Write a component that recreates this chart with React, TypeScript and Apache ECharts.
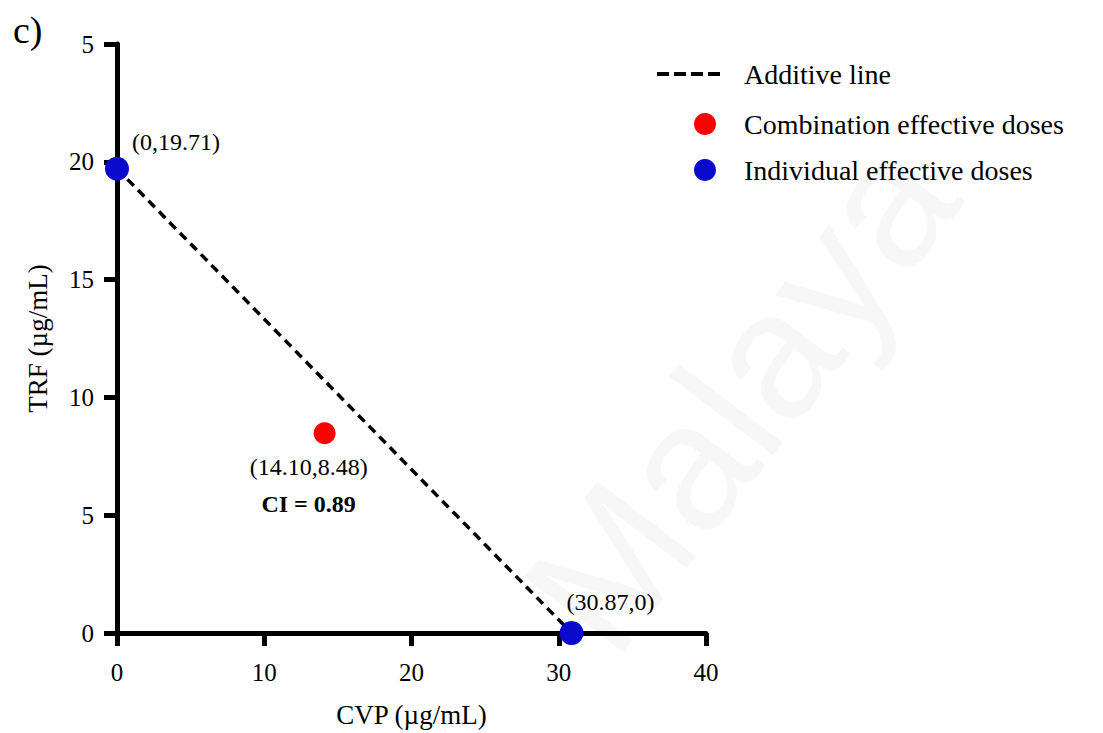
import React, { useEffect, useRef } from "react";
import * as echarts from "echarts";

// ---- data ----
const additiveLine: [number, number][] = [
  [0, 19.71],
  [30.87, 0],
];
const individualDoses: [number, number][] = [
  [0, 19.71],
  [30.87, 0],
];
const individualLabels = ["(0,19.71)", "(30.87,0)"];
const combinationDoses: [number, number][] = [[14.1, 8.48]];
const combinationLabels = ["(14.10,8.48)"];
const ciValue = "0.89";
const xTicks = [0, 10, 20, 30, 40];
const yTicks = [0, 5, 10, 15, 20, 25];
const yTickLabels = ["0", "5", "10", "15", "20", "5"];

const FONT = "'Liberation Serif', 'Times New Roman', serif";
const DASH_ICON =
  "path://M0,0H12V4H0Z M17,0H29V4H17Z M34,0H46V4H34Z M51,0H63V4H51Z";

export default function App() {
  const ref = useRef<HTMLDivElement>(null);
  useEffect(() => {
    if (!ref.current) return;
    const chart = echarts.init(ref.current, undefined, { renderer: "svg" });
    const option: any = {
      animation: false,
      backgroundColor: "#ffffff",
      textStyle: { fontFamily: FONT },
      grid: { left: 117, right: 397, top: 44, bottom: 99, containLabel: false },
      graphic: [
        {
          type: "text",
          x: 740,
          y: 395,
          rotation: 0.92,
          z: -10,
          silent: true,
          style: {
            text: "Malaya",
            fontFamily: "'Liberation Sans', Arial, sans-serif",
            fontSize: 180,
            fill: "rgba(0,0,0,0.03)",
            align: "center",
            verticalAlign: "middle",
          },
        },
        {
          type: "text",
          left: 13,
          top: 11,
          style: { text: "c)", fontFamily: FONT, fontSize: 38, fill: "#000" },
        },
      ],
      legend: [
        {
          orient: "vertical",
          left: 652,
          top: 55,
          itemWidth: 63,
          itemHeight: 4,
          data: [{ name: "Additive line", icon: DASH_ICON, itemStyle: { color: "#000" } }],
          textStyle: { fontFamily: FONT, fontSize: 28, color: "#000", padding: [0, 0, 0, 19] },
        },
        {
          orient: "vertical",
          left: 689,
          top: 105,
          itemWidth: 22,
          itemHeight: 22,
          itemGap: 18,
          data: ["Combination effective doses", "Individual effective doses"],
          icon: "circle",
          textStyle: { fontFamily: FONT, fontSize: 28, color: "#000", padding: [0, 0, 0, 23] },
        },
      ],
      xAxis: {
        type: "value",
        min: xTicks[0],
        max: xTicks[xTicks.length - 1],
        interval: 10,
        name: "CVP (µg/mL)",
        nameLocation: "middle",
        nameGap: 68,
        nameTextStyle: { fontFamily: FONT, fontSize: 27, color: "#000" },
        axisLine: { show: true, onZero: false, lineStyle: { color: "#000", width: 5 } },
        axisTick: { show: true, length: 13, lineStyle: { color: "#000", width: 5 } },
        axisLabel: { fontFamily: FONT, fontSize: 25, color: "#000", margin: 27 },
        splitLine: { show: false },
      },
      yAxis: {
        type: "value",
        min: yTicks[0],
        max: yTicks[yTicks.length - 1],
        interval: 5,
        name: "TRF (µg/mL)",
        nameLocation: "middle",
        nameGap: 66,
        nameTextStyle: { fontFamily: FONT, fontSize: 27, color: "#000" },
        axisLine: { show: true, onZero: false, lineStyle: { color: "#000", width: 5 } },
        axisTick: { show: true, length: 13, lineStyle: { color: "#000", width: 5 } },
        axisLabel: {
          fontFamily: FONT,
          fontSize: 25,
          color: "#000",
          margin: 23,
          formatter: (v: number) => yTickLabels[yTicks.indexOf(v)] ?? String(v),
        },
        splitLine: { show: false },
      },
      series: [
        {
          name: "Additive line",
          type: "line",
          data: additiveLine,
          symbol: "none",
          z: 1,
          itemStyle: { color: "#000" },
          lineStyle: { color: "#000", width: 3.5, type: [9, 6] },
        },
        {
          name: "Combination effective doses",
          type: "scatter",
          data: combinationDoses.map((d, i) => ({
            value: d,
            label: {
              show: true,
              position: "bottom",
              distance: 4,
              offset: [-16, 0],
              formatter: `{a|${combinationLabels[i]}}\n{b|CI = ${ciValue}}`,
              rich: {
                a: { fontFamily: FONT, fontSize: 24, color: "#000", lineHeight: 37 },
                b: { fontFamily: FONT, fontSize: 24, fontWeight: "bold", color: "#000", lineHeight: 37 },
              },
            },
          })),
          symbol: "circle",
          symbolSize: 22,
          z: 3,
          itemStyle: { color: "#ff0000", opacity: 1 },
        },
        {
          name: "Individual effective doses",
          type: "scatter",
          data: individualDoses.map((d, i) => ({
            value: d,
            label: {
              show: true,
              position: "top",
              distance: i === 0 ? 3 : 7,
              offset: i === 0 ? [59, 0] : [39, 0],
              formatter: individualLabels[i],
              fontFamily: FONT,
              fontSize: 24,
              color: "#000",
            },
          })),
          symbol: "circle",
          symbolSize: 24,
          z: 3,
          itemStyle: { color: "#0a0acc", opacity: 1 },
        },
      ],
    };
    chart.setOption(option);
    return () => chart.dispose();
  }, []);
  return (
    <div
      ref={ref}
      style={{ position: "fixed", left: 0, top: 0, width: 1103, height: 733, background: "#fff" }}
    />
  );
}
